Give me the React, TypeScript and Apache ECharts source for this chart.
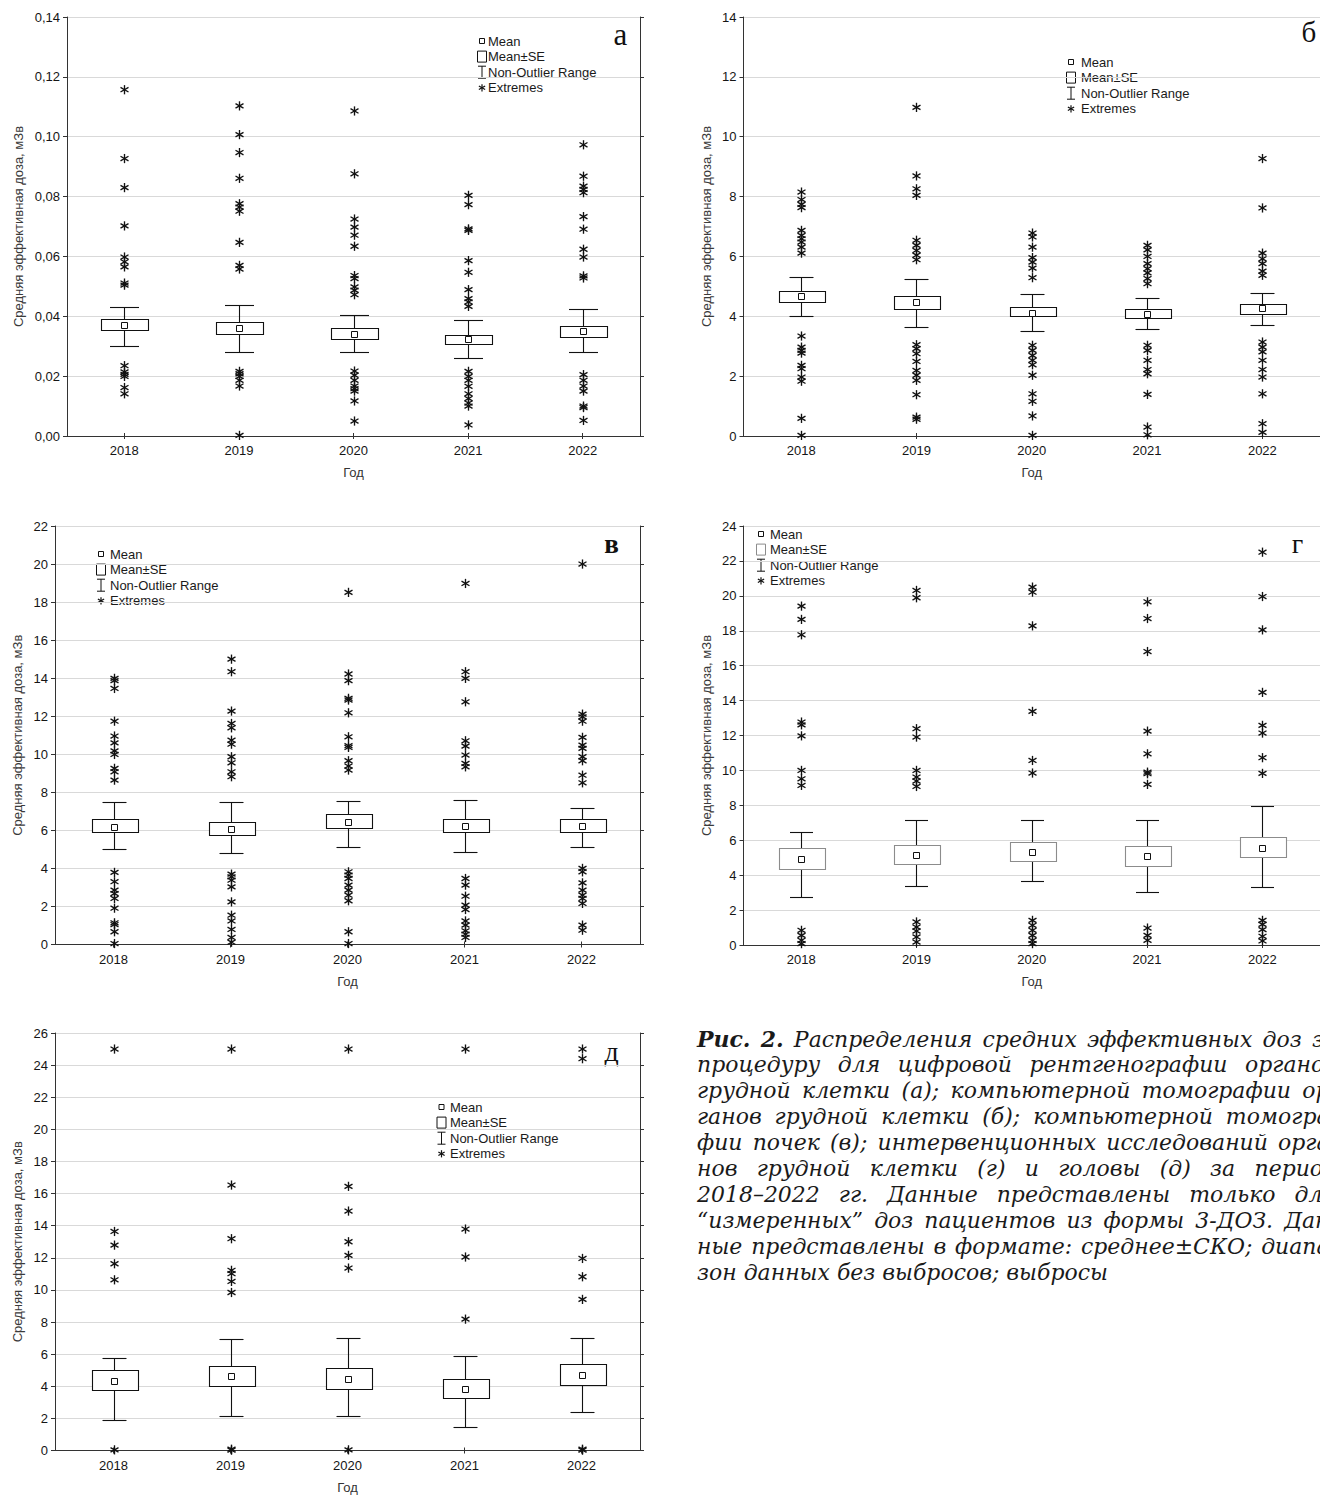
import React, { useEffect, useRef } from 'react';
import * as echarts from 'echarts';

// ---------- categories & labels ----------
const years = ['2018', '2019', '2020', '2021', '2022'];
const axisTitle = 'Средняя эффективная доза, мЗв';
const xTitle = 'Год';
const panelLetters = ['а', 'б', 'в', 'г', 'д'];
const legendLabels = ['Mean', 'Mean±SE', 'Non-Outlier Range', 'Extremes'];
const captionLines = [
  'Рис. 2. Распределения средних эффективных доз за',
  'процедуру для цифровой рентгенографии органов',
  'грудной клетки (а); компьютерной томографии ор-',
  'ганов грудной клетки (б); компьютерной томогра-',
  'фии почек (в); интервенционных исследований орга-',
  'нов грудной клетки (г) и головы (д) за период',
  '2018–2022 гг. Данные представлены только для',
  '“измеренных” доз пациентов из формы 3-ДОЗ. Дан-',
  'ные представлены в формате: среднее±СКО; диапа-',
  'зон данных без выбросов; выбросы',
];

// ---------- panel а ----------
const aMean = [0.0371, 0.036, 0.0341, 0.0323, 0.035];
const aSeLow = [0.0355, 0.0342, 0.0324, 0.0306, 0.0331];
const aSeHigh = [0.039, 0.0382, 0.0362, 0.0339, 0.0368];
const aRangeLow = [0.03, 0.028, 0.028, 0.0262, 0.028];
const aRangeHigh = [0.0432, 0.0439, 0.0404, 0.0387, 0.0424];
const aExtremes = [
  [0.1157, 0.0927, 0.083, 0.0702, 0.0598, 0.0582, 0.0565, 0.0511, 0.0504, 0.0235, 0.0214, 0.0206, 0.0199, 0.0162, 0.0141],
  [0.1103, 0.1007, 0.0947, 0.0861, 0.0776, 0.0765, 0.0751, 0.0647, 0.057, 0.0558, 0.0216, 0.0208, 0.0199, 0.0186, 0.0167, 0.0002],
  [0.1086, 0.0876, 0.0725, 0.0698, 0.0671, 0.0634, 0.0536, 0.0526, 0.0498, 0.0487, 0.0472, 0.0217, 0.0203, 0.0186, 0.0167, 0.0158, 0.015, 0.0117, 0.005],
  [0.0804, 0.0773, 0.0692, 0.0687, 0.0586, 0.0547, 0.0489, 0.0459, 0.0448, 0.0433, 0.0216, 0.0199, 0.0186, 0.0166, 0.0141, 0.0125, 0.011, 0.01, 0.0037],
  [0.0973, 0.0868, 0.0835, 0.0824, 0.0813, 0.0733, 0.0691, 0.0624, 0.0598, 0.0535, 0.0528, 0.0205, 0.0186, 0.0167, 0.015, 0.01, 0.0095, 0.0052],
];

// ---------- panel б ----------
const bMean = [4.68, 4.47, 4.11, 4.08, 4.27];
const bSeLow = [4.48, 4.26, 4.0, 3.95, 4.09];
const bSeHigh = [4.86, 4.69, 4.31, 4.25, 4.42];
const bRangeLow = [4.0, 3.65, 3.51, 3.59, 3.7];
const bRangeHigh = [5.31, 5.24, 4.75, 4.62, 4.79];
const bExtremes = [
  [8.15, 7.9, 7.74, 7.63, 6.87, 6.7, 6.59, 6.48, 6.31, 6.11, 3.34, 2.97, 2.86, 2.77, 2.36, 2.25, 1.97, 1.83, 0.59, 0.02],
  [10.98, 8.69, 8.26, 8.04, 6.54, 6.37, 6.2, 6.04, 5.89, 3.05, 2.92, 2.75, 2.49, 2.19, 2.03, 1.86, 1.38, 0.63, 0.56],
  [6.78, 6.65, 6.31, 5.96, 5.81, 5.61, 5.29, 3.03, 2.86, 2.69, 2.53, 2.38, 2.03, 1.41, 1.16, 0.67, 0.02],
  [6.37, 6.22, 6.0, 5.76, 5.59, 5.45, 5.26, 5.09, 3.03, 2.86, 2.53, 2.22, 2.08, 1.39, 0.3, 0.04],
  [9.27, 7.62, 6.11, 5.92, 5.76, 5.51, 5.37, 3.14, 2.97, 2.81, 2.53, 2.22, 1.97, 1.41, 0.41, 0.12],
];

// ---------- panel в ----------
const vMean = [6.19, 6.08, 6.45, 6.24, 6.24];
const vSeLow = [5.89, 5.75, 6.1, 5.89, 5.94];
const vSeHigh = [6.59, 6.43, 6.87, 6.59, 6.59];
const vRangeLow = [5.03, 4.79, 5.14, 4.87, 5.14];
const vRangeHigh = [7.47, 7.47, 7.52, 7.62, 7.2];
const vExtremes = [
  [13.99, 13.87, 13.46, 11.74, 10.96, 10.6, 10.18, 9.99, 9.26, 9.08, 8.64, 3.79, 3.3, 2.86, 2.68, 2.42, 1.91, 1.14, 1.05, 0.67, 0.05],
  [15.0, 14.34, 12.27, 11.62, 11.39, 10.74, 10.53, 9.87, 9.55, 9.08, 8.82, 3.7, 3.56, 3.38, 3.03, 2.24, 1.54, 1.24, 0.79, 0.37, 0.12],
  [18.51, 14.22, 13.87, 12.94, 12.85, 12.18, 10.92, 10.45, 10.36, 9.66, 9.38, 9.17, 3.82, 3.65, 3.47, 3.12, 2.86, 2.59, 2.3, 0.67, 0.05],
  [18.98, 14.34, 13.99, 12.76, 10.71, 10.43, 9.96, 9.52, 9.34, 3.47, 3.12, 2.54, 2.07, 1.84, 1.24, 1.02, 0.72, 0.54, 0.37],
  [20.0, 12.11, 11.97, 11.74, 10.89, 10.48, 10.31, 9.87, 9.66, 8.9, 8.5, 4.0, 3.82, 3.24, 2.86, 2.59, 2.42, 2.16, 1.02, 0.75],
];

// ---------- panel г ----------
const gMean = [4.94, 5.17, 5.31, 5.1, 5.57];
const gSeLow = [4.37, 4.66, 4.79, 4.54, 5.02];
const gSeHigh = [5.55, 5.74, 5.92, 5.69, 6.18];
const gRangeLow = [2.77, 3.38, 3.68, 3.02, 3.32];
const gRangeHigh = [6.49, 7.16, 7.16, 7.16, 7.98];
const gExtremes = [
  [19.41, 18.65, 17.77, 12.77, 12.61, 11.98, 10.0, 9.52, 9.14, 0.84, 0.55, 0.27, 0.08],
  [20.31, 19.89, 12.39, 11.91, 10.0, 9.62, 9.39, 9.08, 1.32, 1.03, 0.8, 0.46, 0.17],
  [20.5, 20.21, 18.28, 13.38, 10.57, 9.85, 1.41, 1.13, 0.84, 0.55, 0.27, 0.08],
  [19.66, 18.7, 16.81, 12.25, 10.95, 9.9, 9.81, 9.2, 0.97, 0.55, 0.27],
  [22.5, 19.96, 18.05, 14.47, 12.58, 12.14, 10.73, 9.83, 1.41, 1.18, 0.88, 0.5, 0.23],
];

// ---------- panel д ----------
const dMean = [4.34, 4.61, 4.47, 3.82, 4.71];
const dSeLow = [3.78, 4.03, 3.84, 3.26, 4.09];
const dSeHigh = [5.0, 5.25, 5.13, 4.44, 5.38];
const dRangeLow = [1.93, 2.16, 2.16, 1.45, 2.37];
const dRangeHigh = [5.75, 6.94, 6.98, 5.9, 6.98];
const dExtremes = [
  [25.0, 13.64, 12.79, 11.63, 10.63, 0.04],
  [25.0, 16.53, 13.19, 11.22, 11.01, 10.53, 9.84, 0.08, 0.02],
  [25.0, 16.45, 14.91, 13.0, 12.15, 11.36, 0.04],
  [25.0, 13.79, 12.05, 8.18],
  [25.0, 24.4, 11.96, 10.82, 9.41, 0.08, 0.02],
];

// ---------- y-axis scales ----------
const yMax = [0.14, 14, 22, 24, 26];
const yInterval = [0.02, 2, 2, 2, 2];
const yDecimals = [2, 0, 0, 0, 0];

const panelData = [
  { mean: aMean, seLow: aSeLow, seHigh: aSeHigh, lo: aRangeLow, hi: aRangeHigh, ext: aExtremes },
  { mean: bMean, seLow: bSeLow, seHigh: bSeHigh, lo: bRangeLow, hi: bRangeHigh, ext: bExtremes },
  { mean: vMean, seLow: vSeLow, seHigh: vSeHigh, lo: vRangeLow, hi: vRangeHigh, ext: vExtremes },
  { mean: gMean, seLow: gSeLow, seHigh: gSeHigh, lo: gRangeLow, hi: gRangeHigh, ext: gExtremes },
  { mean: dMean, seLow: dSeLow, seHigh: dSeHigh, lo: dRangeLow, hi: dRangeHigh, ext: dExtremes },
];

// ---------- layout / style (positions in px) ----------
const layouts = [
  { left: 67, top: 17, width: 573, height: 419, nameGap: 42, capW: 29, boxW: 47, stroke: '#111', lgX: 482, lgY: 41, lgTX: 488, ltX: 620.5, ltY: 34, ltSize: 31, ltWeight: 'normal' },
  { left: 743.5, top: 17, width: 583, height: 419, nameGap: 31, capW: 24, boxW: 46, stroke: '#111', lgX: 1071, lgY: 62, lgTX: 1081, ltX: 1309, ltY: 32, ltSize: 29, ltWeight: 'normal' },
  { left: 55, top: 526, width: 585, height: 418.5, nameGap: 31, capW: 24, boxW: 46, stroke: '#111', lgX: 101, lgY: 554, lgTX: 110, ltX: 611.5, ltY: 544, ltSize: 27, ltWeight: 'bold' },
  { left: 743.5, top: 526, width: 583, height: 419, nameGap: 31, capW: 23, boxW: 46, stroke: '#8c8c8c', lgX: 761, lgY: 534, lgTX: 770, ltX: 1297.5, ltY: 543, ltSize: 28, ltWeight: 'normal' },
  { left: 55, top: 1033, width: 585, height: 417.5, nameGap: 31, capW: 24, boxW: 46, stroke: '#111', lgX: 441.5, lgY: 1107, lgTX: 450, ltX: 611.5, ltY: 1051, ltSize: 28, ltWeight: 'normal' },
];

const SANS = 'Liberation Sans, Arial, sans-serif';
const SERIF = 'DejaVu Serif';
const CAP_X = 697;
const CAP_W = 640;
const CAP_Y0 = 1039;
const CAP_DY = 25.9;
const CAP_LAST_W = 411;

const crisp = (v: number) => Math.round(v) + 0.5;

function makeBoxRenderer(l: any) {
  return (params: any, api: any) => {
    const i = api.value(0);
    const c = (v: number) => api.coord([i, v]);
    const [cxRaw, yMeanRaw] = c(api.value(1));
    const cx = crisp(cxRaw);
    const ySeLo = crisp(c(api.value(2))[1]);
    const ySeHi = crisp(c(api.value(3))[1]);
    const yLo = crisp(c(api.value(4))[1]);
    const yHi = crisp(c(api.value(5))[1]);
    const ls = { stroke: '#111', lineWidth: 1.1 };
    const bx = Math.round(cx - l.boxW / 2) + 0.5;
    return {
      type: 'group',
      children: [
        { type: 'line', shape: { x1: cx, y1: yHi, x2: cx, y2: yLo }, style: ls },
        { type: 'line', shape: { x1: cx - l.capW / 2, y1: yHi, x2: cx + l.capW / 2, y2: yHi }, style: ls },
        { type: 'line', shape: { x1: cx - l.capW / 2, y1: yLo, x2: cx + l.capW / 2, y2: yLo }, style: ls },
        { type: 'rect', shape: { x: bx, y: ySeHi, width: l.boxW, height: ySeLo - ySeHi }, style: { fill: '#fff', stroke: l.stroke, lineWidth: 1.1 } },
        { type: 'rect', shape: { x: cx - 3, y: Math.round(yMeanRaw) - 2.5, width: 6, height: 6 }, style: { fill: '#fff', stroke: '#111', lineWidth: 1 } },
      ],
    };
  };
}

function asteriskLines(cx: number, cy: number, r: number, lw: number) {
  const st = { stroke: '#111', lineWidth: lw };
  const dx = r * 0.87;
  const dy = r * 0.5;
  return [
    { type: 'line', shape: { x1: cx, y1: cy - r, x2: cx, y2: cy + r }, style: st },
    { type: 'line', shape: { x1: cx - dx, y1: cy - dy, x2: cx + dx, y2: cy + dy }, style: st },
    { type: 'line', shape: { x1: cx - dx, y1: cy + dy, x2: cx + dx, y2: cy - dy }, style: st },
  ];
}

function renderExtreme(params: any, api: any) {
  const [x, y] = api.coord([api.value(0), api.value(1)]);
  return { type: 'group', children: asteriskLines(Math.round(x) + 0.5, y, 4.6, 1.35) };
}

function legendGraphics(l: any) {
  const dy = 15.6;
  const cx = l.lgX;
  const y0 = l.lgY;
  const ts = (text: string, y: number) => ({
    type: 'text',
    style: { text, x: l.lgTX, y, fontSize: 13, fontFamily: SANS, fill: '#1a1a1a', verticalAlign: 'middle', align: 'left' },
  });
  const st = { stroke: '#111', lineWidth: 1 };
  const items: any[] = [
    { type: 'rect', shape: { x: cx - 2.5, y: y0 - 2.5, width: 5, height: 5 }, style: { fill: '#fff', stroke: '#111', lineWidth: 1 } },
    ts(legendLabels[0], y0),
    { type: 'rect', shape: { x: cx - 4.5, y: y0 + dy - 5.5, width: 9, height: 11 }, style: { fill: '#fff', stroke: l.stroke, lineWidth: 1 } },
    ts(legendLabels[1], y0 + dy),
    { type: 'line', shape: { x1: cx, y1: y0 + 2 * dy - 6, x2: cx, y2: y0 + 2 * dy + 6 }, style: st },
    { type: 'line', shape: { x1: cx - 4, y1: y0 + 2 * dy - 6, x2: cx + 4, y2: y0 + 2 * dy - 6 }, style: st },
    { type: 'line', shape: { x1: cx - 4, y1: y0 + 2 * dy + 6, x2: cx + 4, y2: y0 + 2 * dy + 6 }, style: st },
    ts(legendLabels[2], y0 + 2 * dy),
    ...asteriskLines(cx, y0 + 3 * dy, 3.6, 1.2),
    ts(legendLabels[3], y0 + 3 * dy),
  ];
  return items;
}

function captionGraphics() {
  const canvas = document.createElement('canvas');
  const ctx = canvas.getContext('2d') as CanvasRenderingContext2D;
  const fontStr = (w: string, fs: number) => `italic ${w} ${fs}px "${SERIF}"`;
  ctx.font = fontStr('normal', 20);
  const w20 = ctx.measureText(captionLines[captionLines.length - 1]).width || 1;
  const fs = Math.max(14, Math.min(26, (20 * CAP_LAST_W) / w20));
  const out: any[] = [];
  captionLines.forEach((line, li) => {
    const words = line.split(' ');
    const weights = words.map((_, wi) => (li === 0 && wi < 2 ? 'bold' : 'normal'));
    const widths = words.map((w, wi) => {
      ctx.font = fontStr(weights[wi], fs);
      return ctx.measureText(w).width;
    });
    ctx.font = fontStr('normal', fs);
    const spaceW = ctx.measureText(' ').width;
    const total = widths.reduce((s, v) => s + v, 0);
    const isLast = li === captionLines.length - 1;
    let gap = spaceW;
    if (!isLast && words.length > 1) gap = Math.max(spaceW * 0.6, (CAP_W - total) / (words.length - 1));
    let x = CAP_X;
    const y = CAP_Y0 + li * CAP_DY;
    words.forEach((w, wi) => {
      out.push({
        type: 'text',
        silent: true,
        style: { text: w, x, y, fontSize: fs, fontFamily: SERIF, fontStyle: 'italic', fontWeight: weights[wi], fill: '#1a1a1a', verticalAlign: 'middle', align: 'left' },
      });
      x += widths[wi] + gap;
    });
  });
  return out;
}

export default function App() {
  const ref = useRef<HTMLDivElement>(null);
  useEffect(() => {
    if (!ref.current) return;
    const chart = echarts.init(ref.current, null, { renderer: 'svg' });
    const grid: any[] = [];
    const xAxis: any[] = [];
    const yAxis: any[] = [];
    const series: any[] = [];
    const graphic: any[] = [];
    const axisLineStyle = { color: '#333', width: 1 };
    layouts.forEach((l, p) => {
      grid.push({ left: l.left, top: l.top, width: l.width, height: l.height });
      xAxis.push({
        type: 'category', gridIndex: p, data: years, position: 'bottom',
        axisLine: { show: true, lineStyle: axisLineStyle },
        axisTick: { show: true, inside: true, alignWithLabel: true, length: 3, lineStyle: axisLineStyle },
        axisLabel: { fontSize: 13, color: '#151515', fontFamily: SANS, margin: 8 },
        splitLine: { show: false },
        name: xTitle, nameLocation: 'middle', nameGap: 30,
        nameTextStyle: { fontSize: 13, color: '#333', fontFamily: SANS },
      });
      xAxis.push({
        type: 'category', gridIndex: p, data: years, position: 'top',
        axisLine: { show: true, lineStyle: axisLineStyle },
        axisTick: { show: true, inside: true, alignWithLabel: true, length: 3, lineStyle: axisLineStyle },
        axisLabel: { show: false }, splitLine: { show: false },
      });
      const dec = yDecimals[p];
      yAxis.push({
        type: 'value', gridIndex: p, min: 0, max: yMax[p], interval: yInterval[p], position: 'left',
        axisLine: { show: true, lineStyle: axisLineStyle },
        axisTick: { show: true, length: 4, lineStyle: axisLineStyle },
        axisLabel: { fontSize: 13, color: '#151515', fontFamily: SANS, margin: 7, formatter: (v: number) => v.toFixed(dec).replace('.', ',') },
        splitLine: { show: true, lineStyle: { color: '#d9d9d9', width: 1 } },
        name: axisTitle, nameLocation: 'middle', nameGap: l.nameGap,
        nameTextStyle: { fontSize: 13, color: '#3a3a3a', fontFamily: SANS },
      });
      yAxis.push({
        type: 'value', gridIndex: p, min: 0, max: yMax[p], interval: yInterval[p], position: 'right',
        axisLine: { show: true, lineStyle: axisLineStyle },
        axisTick: { show: true, length: 4, lineStyle: axisLineStyle },
        axisLabel: { show: false }, splitLine: { show: false },
      });
      const d = panelData[p];
      series.push({
        type: 'custom', xAxisIndex: p * 2, yAxisIndex: p * 2, z: 3,
        renderItem: makeBoxRenderer(l),
        data: years.map((_, i) => [i, d.mean[i], d.seLow[i], d.seHigh[i], d.lo[i], d.hi[i]]),
      });
      const extData: number[][] = [];
      d.ext.forEach((arr, i) => arr.forEach((v) => extData.push([i, v])));
      series.push({
        type: 'custom', xAxisIndex: p * 2, yAxisIndex: p * 2, z: 4,
        renderItem: renderExtreme, data: extData,
      });
      graphic.push(...legendGraphics(l));
      graphic.push({
        type: 'text', silent: true,
        style: { text: panelLetters[p], x: l.ltX, y: l.ltY, fontSize: l.ltSize, fontWeight: l.ltWeight, fontFamily: 'Liberation Serif, serif', fill: '#111', align: 'center', verticalAlign: 'middle' },
      });
    });
    graphic.push(...captionGraphics());
    chart.setOption({
      animation: false,
      backgroundColor: '#ffffff',
      grid, xAxis, yAxis, series,
      graphic: { elements: graphic },
    });
    return () => chart.dispose();
  }, []);
  return (
    <div style={{ position: 'absolute', left: 0, top: 0, width: 1320, height: 1497, overflow: 'hidden', background: '#fff' }}>
      <div ref={ref} style={{ width: 1320, height: 1497 }} />
    </div>
  );
}
